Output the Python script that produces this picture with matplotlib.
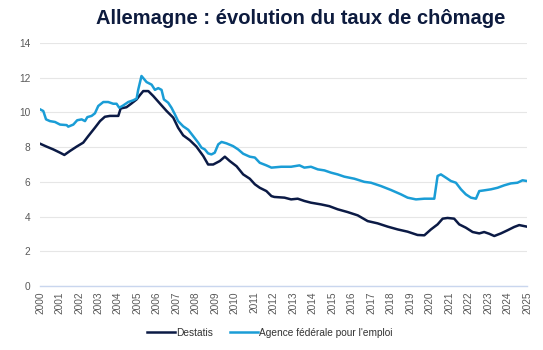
import matplotlib
matplotlib.use("Agg")
import matplotlib.pyplot as plt

# Destatis (ILO-type rate)
destatis_x = [2000.00, 2000.34, 2000.68, 2001.03, 2001.25, 2001.54, 2001.88, 2002.22, 2002.48, 2002.82,
              2003.08, 2003.33, 2003.59, 2004.02, 2004.14, 2004.44, 2004.70, 2004.96, 2005.13, 2005.30,
              2005.56, 2005.81, 2006.15, 2006.50, 2006.84, 2007.09, 2007.35, 2007.69, 2008.03, 2008.38,
              2008.63, 2008.89, 2009.23, 2009.49, 2009.74, 2010.09, 2010.43, 2010.77, 2011.03, 2011.28,
              2011.62, 2011.88, 2012.03, 2012.55, 2012.89, 2013.23, 2013.57, 2013.91, 2014.43, 2014.85,
              2015.28, 2015.79, 2016.31, 2016.82, 2017.33, 2017.85, 2018.36, 2018.87, 2019.38, 2019.73,
              2020.07, 2020.41, 2020.67, 2020.92, 2021.26, 2021.52, 2021.86, 2022.21, 2022.55, 2022.80,
              2023.06, 2023.32, 2023.66, 2024.00, 2024.34, 2024.60, 2024.99]
destatis_y = [8.2, 8.03, 7.87, 7.68, 7.55, 7.78, 8.03, 8.26, 8.64, 9.12,
              9.5, 9.75, 9.8, 9.8, 10.23, 10.3, 10.52, 10.75, 11.0, 11.23,
              11.23, 10.95, 10.52, 10.08, 9.7, 9.12, 8.68, 8.4, 8.03, 7.49,
              7.0, 7.0, 7.2, 7.45, 7.2, 6.9, 6.43, 6.18, 5.86, 5.66,
              5.47, 5.18, 5.13, 5.09, 4.99, 5.03, 4.9, 4.8, 4.7, 4.6,
              4.42, 4.26, 4.07, 3.74, 3.61, 3.42, 3.26, 3.13, 2.94, 2.92,
              3.26, 3.55, 3.88, 3.92, 3.88, 3.55, 3.36, 3.11, 3.03, 3.11,
              3.01, 2.88, 3.03, 3.21, 3.4, 3.51, 3.42]

# Agence fédérale pour l'emploi (BA rate)
agence_x = [2000.00, 2000.17, 2000.31, 2000.51, 2000.77, 2001.03, 2001.37, 2001.45, 2001.71, 2001.91,
            2002.14, 2002.31, 2002.43, 2002.65, 2002.82, 2002.99, 2003.25, 2003.50, 2003.76, 2003.93,
            2004.07, 2004.27, 2004.53, 2004.79, 2004.96, 2005.04, 2005.21, 2005.47, 2005.73, 2005.90,
            2006.07, 2006.24, 2006.36, 2006.58, 2006.75, 2006.92, 2007.09, 2007.35, 2007.61, 2007.86,
            2008.12, 2008.29, 2008.46, 2008.63, 2008.80, 2008.97, 2009.15, 2009.32, 2009.57, 2009.91,
            2010.17, 2010.43, 2010.77, 2011.03, 2011.28, 2011.62, 2011.88, 2012.38, 2012.89, 2013.32,
            2013.57, 2013.91, 2014.26, 2014.60, 2014.94, 2015.28, 2015.62, 2016.14, 2016.65, 2016.99,
            2017.50, 2018.02, 2018.53, 2018.87, 2019.30, 2019.73, 2020.24, 2020.41, 2020.58, 2020.84,
            2021.09, 2021.35, 2021.61, 2021.86, 2022.12, 2022.38, 2022.55, 2022.80, 2023.15, 2023.49,
            2023.83, 2024.17, 2024.51, 2024.77, 2024.99]
agence_y = [10.18, 10.08, 9.6, 9.5, 9.45, 9.3, 9.27, 9.18, 9.3, 9.55,
            9.6, 9.5, 9.73, 9.8, 9.95, 10.37, 10.6, 10.6, 10.5, 10.5,
            10.27, 10.4, 10.6, 10.7, 10.8, 11.3, 12.1, 11.75, 11.6, 11.3,
            11.4, 11.3, 10.75, 10.56, 10.27, 9.9, 9.5, 9.2, 9.0, 8.64,
            8.26, 7.97, 7.87, 7.64, 7.58, 7.68, 8.16, 8.3, 8.22, 8.06,
            7.87, 7.62, 7.45, 7.4, 7.1, 6.95, 6.82, 6.87, 6.87, 6.95,
            6.82, 6.87, 6.72, 6.66, 6.53, 6.43, 6.3, 6.18, 6.0, 5.95,
            5.76, 5.53, 5.28, 5.09, 4.99, 5.03, 5.03, 6.34, 6.43, 6.24,
            6.05, 5.95, 5.57, 5.28, 5.09, 5.03, 5.47, 5.51, 5.57, 5.66,
            5.8, 5.91, 5.95, 6.09, 6.05]

years = list(range(2000, 2026))
yticks = [0, 2, 4, 6, 8, 10, 12, 14]

title = "Allemagne\u00a0: évolution du taux de chômage"
label_destatis = "Destatis"
label_agence = "Agence fédérale pour l'emploi"

dark = "#0b1a45"
light = "#1a9dd6"
grey = "#595959"

plt.rcParams['font.family'] = ['Liberation Sans', 'DejaVu Sans']

fig = plt.figure(figsize=(5.43, 3.5), dpi=100)
ax = fig.add_axes([40/543, 1 - 286/350, 487/543, 243/350])

ax.plot(destatis_x, destatis_y, color=dark, lw=1.8, label=label_destatis, solid_joinstyle='round')
ax.plot(agence_x, agence_y, color=light, lw=1.8, label=label_agence, solid_joinstyle='round')

ax.set_xlim(2000, 2025)
ax.set_ylim(0, 14)
ax.set_xticks(years)
ax.set_xticklabels([str(y) for y in years], rotation=90, fontsize=7.3, color=grey)
ax.set_yticks(yticks)
ax.set_yticklabels([str(v) for v in yticks], fontsize=7.3, color=grey)
ax.tick_params(axis='both', length=0, pad=4)
ax.tick_params(axis='y', pad=7)
ax.grid(axis='y', color='#e6e6e6', lw=0.8)
ax.set_axisbelow(True)
for s in ['top', 'right', 'left']:
    ax.spines[s].set_visible(False)
ax.spines['bottom'].set_color('#c9d6ee')
ax.spines['bottom'].set_linewidth(1.0)

fig.text(301/543, 1 - 18/350, title, ha='center', va='center', fontsize=14.5,
         fontweight='bold', color='#0d1b3e')

fig.legend(loc='center', bbox_to_anchor=(270/543, 1 - 333/350), ncol=2, frameon=False,
           fontsize=7.3, handlelength=2.7, handletextpad=0.15, columnspacing=1.7,
           labelcolor='#333333')

fig.savefig("out.png", dpi=100)
